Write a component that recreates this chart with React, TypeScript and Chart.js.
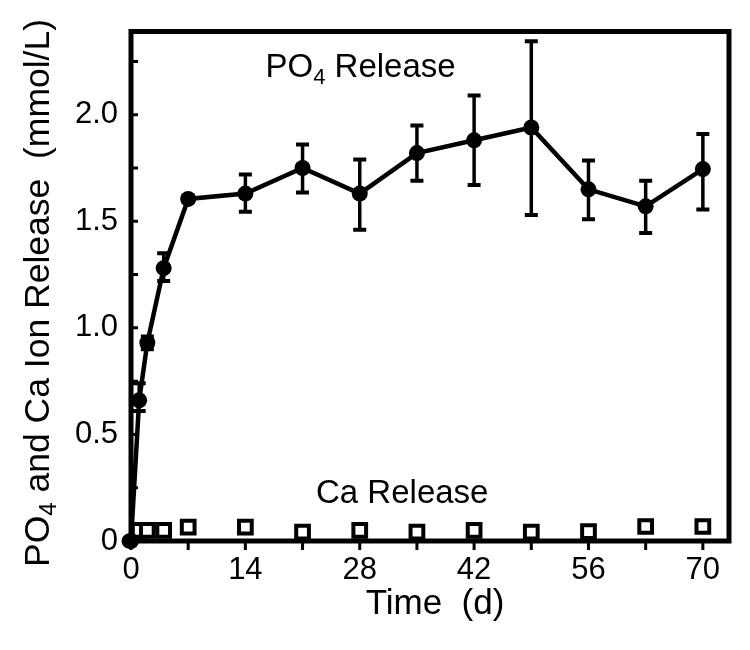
import React, { useEffect, useRef } from 'react';
import { Chart, registerables } from 'chart.js';

Chart.register(...registerables);

// ---- data ----
const DAYS_PO4 = [0, 1, 2, 4, 7, 14, 21, 28, 35, 42, 49, 56, 63, 70];
const PO4_MEAN = [0, 0.66, 0.93, 1.28, 1.605, 1.63, 1.75, 1.63, 1.82, 1.88, 1.94, 1.65, 1.57, 1.745];
const PO4_LOW = [0, 0.61, 0.9, 1.22, 1.59, 1.545, 1.635, 1.46, 1.69, 1.67, 1.53, 1.51, 1.445, 1.555];
const PO4_HIGH = [0, 0.74, 0.96, 1.35, 1.62, 1.72, 1.86, 1.79, 1.95, 2.09, 2.345, 1.785, 1.69, 1.91];

const DAYS_CA = [1, 2, 4, 7, 14, 21, 28, 35, 42, 49, 56, 63, 70];
const CA_MEAN = [0.05, 0.05, 0.05, 0.065, 0.065, 0.042, 0.05, 0.042, 0.05, 0.042, 0.044, 0.068, 0.068];

const X_TICKS = [0, 7, 14, 21, 28, 35, 42, 49, 56, 63, 70];
const X_LABELED = [0, 14, 28, 42, 56, 70];
const Y_TICKS = [0, 0.25, 0.5, 0.75, 1.0, 1.25, 1.5, 1.75, 2.0, 2.25];
const Y_LABELS: Record<string, string> = { '0': '0', '0.5': '0.5', '1': '1.0', '1.5': '1.5', '2': '2.0' };

const X_MIN = 0;
const X_MAX = 73.2;
const Y_MIN = 0;
const Y_MAX = 2.39;

const PO4_LABEL_POS = { x: 28.1, y: 2.22 };
const CA_LABEL_POS = { x: 33.2, y: 0.22 };

const FONT = '"Liberation Sans", Arial, Helvetica, sans-serif';

function drawSubText(ctx: CanvasRenderingContext2D, parts: { t: string; sub?: boolean }[], size: number, cx: number, cy: number) {
  const subSize = Math.round(size * 0.68);
  let total = 0;
  for (const p of parts) {
    ctx.font = `${p.sub ? subSize : size}px ${FONT}`;
    total += ctx.measureText(p.t).width;
  }
  let x = cx - total / 2;
  ctx.textBaseline = 'middle';
  ctx.textAlign = 'left';
  for (const p of parts) {
    ctx.font = `${p.sub ? subSize : size}px ${FONT}`;
    ctx.fillText(p.t, x, p.sub ? cy + size * 0.3 : cy);
    x += ctx.measureText(p.t).width;
  }
}

const decor = {
  id: 'decor',
  beforeDatasetsDraw(chart: any) {
    const ctx = chart.ctx as CanvasRenderingContext2D;
    const xs = chart.scales.x;
    const ys = chart.scales.y;
    ctx.save();
    ctx.strokeStyle = '#000';
    ctx.lineCap = 'butt';
    for (let i = 0; i < DAYS_PO4.length; i++) {
      if (PO4_HIGH[i] === PO4_LOW[i]) continue;
      const x = xs.getPixelForValue(DAYS_PO4[i]);
      const yl = ys.getPixelForValue(PO4_LOW[i]);
      const yh = ys.getPixelForValue(PO4_HIGH[i]);
      ctx.lineWidth = 3.5;
      ctx.beginPath();
      ctx.moveTo(x, yl);
      ctx.lineTo(x, yh);
      ctx.stroke();
      ctx.lineWidth = 4;
      ctx.beginPath();
      ctx.moveTo(x - 6.5, yl);
      ctx.lineTo(x + 6.5, yl);
      ctx.moveTo(x - 6.5, yh);
      ctx.lineTo(x + 6.5, yh);
      ctx.stroke();
    }
    ctx.restore();
  },
  afterDraw(chart: any) {
    const ctx = chart.ctx as CanvasRenderingContext2D;
    const a = chart.chartArea;
    const xs = chart.scales.x;
    const ys = chart.scales.y;
    ctx.save();
    ctx.strokeStyle = '#000';
    ctx.fillStyle = '#000';
    // ticks
    ctx.lineWidth = 3;
    ctx.beginPath();
    for (const v of X_TICKS) {
      const x = xs.getPixelForValue(v);
      ctx.moveTo(x, a.bottom);
      ctx.lineTo(x, a.bottom + 9);
    }
    for (const v of Y_TICKS) {
      const y = ys.getPixelForValue(v);
      ctx.moveTo(a.left, y);
      ctx.lineTo(a.left + 7, y);
    }
    ctx.stroke();
    // frame
    ctx.lineWidth = 5;
    ctx.beginPath();
    ctx.rect(a.left, a.top, a.right - a.left, a.bottom - a.top);
    ctx.stroke();
    ctx.restore();

    // origin point over the frame
    ctx.save();
    ctx.fillStyle = '#000';
    ctx.beginPath();
    ctx.arc(xs.getPixelForValue(DAYS_PO4[0]) - 2, ys.getPixelForValue(PO4_MEAN[0]), 7.5, 0, Math.PI * 2);
    ctx.fill();
    ctx.restore();

    // annotations
    ctx.save();
    ctx.fillStyle = '#000';
    drawSubText(ctx, [{ t: 'PO' }, { t: '4', sub: true }, { t: ' Release' }], 33,
      xs.getPixelForValue(PO4_LABEL_POS.x), ys.getPixelForValue(PO4_LABEL_POS.y));
    drawSubText(ctx, [{ t: 'Ca Release' }], 33,
      xs.getPixelForValue(CA_LABEL_POS.x), ys.getPixelForValue(CA_LABEL_POS.y));
    // x title
    drawSubText(ctx, [{ t: 'Time  (d)' }], 35, (a.left + a.right) / 2 + 5, 604);
    // y title
    ctx.translate(39, 293);
    ctx.rotate(-Math.PI / 2);
    drawSubText(ctx, [{ t: 'PO' }, { t: '4', sub: true }, { t: ' and Ca Ion Release  (mmol/L)' }], 35.5, 0, 0);
    ctx.restore();
  },
};

export default function App() {
  const ref = useRef<HTMLCanvasElement | null>(null);
  useEffect(() => {
    if (!ref.current) return;
    const chart = new Chart(ref.current, {
      type: 'scatter',
      data: {
        datasets: [
          {
            label: 'PO4',
            data: DAYS_PO4.map((d, i) => ({ x: d, y: PO4_MEAN[i] })),
            showLine: true,
            borderColor: '#000',
            borderWidth: 4.5,
            pointRadius: 8,
            pointBackgroundColor: '#000',
            pointBorderColor: '#000',
            pointBorderWidth: 0,
            clip: false as any,
          },
          {
            label: 'Ca',
            data: DAYS_CA.map((d, i) => ({ x: d, y: CA_MEAN[i] })),
            showLine: false,
            pointStyle: 'rect',
            pointRadius: 9,
            pointBackgroundColor: '#fff',
            pointBorderColor: '#000',
            pointBorderWidth: 4,
            clip: false as any,
          },
        ],
      },
      options: {
        responsive: false,
        animation: false,
        events: [],
        layout: { padding: { left: 0, top: 26, right: 21, bottom: 0 } },
        plugins: { legend: { display: false }, tooltip: { enabled: false }, title: { display: false } },
        scales: {
          x: {
            type: 'linear',
            min: X_MIN,
            max: X_MAX,
            grid: { display: false, drawTicks: false },
            border: { display: false },
            afterBuildTicks: (s: any) => { s.ticks = X_TICKS.map((v) => ({ value: v })); },
            afterFit: (s: any) => { s.height = 109; },
            ticks: {
              padding: 11,
              color: '#000',
              font: { family: FONT, size: 31 },
              maxRotation: 0,
              autoSkip: false,
              callback: (v: any) => (X_LABELED.includes(Number(v)) ? String(v) : ''),
            },
          },
          y: {
            type: 'linear',
            min: Y_MIN,
            max: Y_MAX,
            grid: { display: false, drawTicks: false },
            border: { display: false },
            afterBuildTicks: (s: any) => { s.ticks = Y_TICKS.map((v) => ({ value: v })); },
            afterFit: (s: any) => { s.width = 131; },
            ticks: {
              padding: 13,
              color: '#000',
              font: { family: FONT, size: 31 },
              autoSkip: false,
              callback: (v: any) => Y_LABELS[String(Number(v))] ?? '',
            },
          },
        },
      },
      plugins: [decor],
    });
    return () => chart.destroy();
  }, []);
  return (
    <div style={{ position: 'absolute', left: 0, top: 0, width: 750, height: 650, background: '#fff' }}>
      <canvas ref={ref} width={750} height={650} style={{ display: 'block' }} />
    </div>
  );
}
